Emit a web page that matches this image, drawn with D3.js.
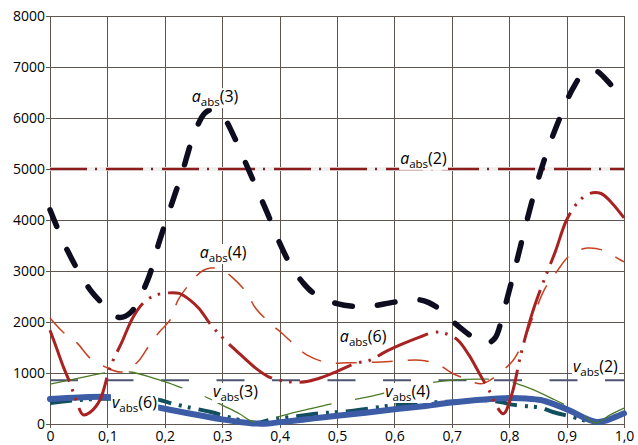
<!DOCTYPE html>
<html><head><meta charset="utf-8">
<script src="https://cdn.jsdelivr.net/npm/d3@7"></script>
<style>
body{margin:0;background:#fff}
svg{display:block}
text{font-family:"Open Sans",sans-serif}
</style>
</head><body>
<svg id="c" width="638" height="445"></svg>
<script>
// ---------- data ----------
const xTicks = [0,0.1,0.2,0.3,0.4,0.5,0.6,0.7,0.8,0.9,1.0];
const yTicks = [0,1000,2000,3000,4000,5000,6000,7000,8000];

// a_abs(2) and v_abs(2) are constant levels
const aAbs2X = [0,1];
const aAbs2 = [5000,5000];
const vAbs2X = [0,1];
const vAbs2 = [860,860];

const aAbs3X = [0,.03,.07,.1,.12,.14,.17,.19,.21,.23,.25,.27,.285,.3,.32,.34,.36,.38,.4,.42,.44,.46,.5,.55,.6,.64,.66,.68,.7,.72,.74,.76,.775,.79,.81,.83,.85,.87,.89,.91,.93,.95,.97,.99,1.0];
const aAbs3  = [4200,3410,2630,2270,2090,2180,2820,3560,4250,4920,5650,6100,6170,6060,5650,5140,4620,4100,3550,3100,2780,2560,2360,2300,2390,2440,2380,2240,2030,1840,1680,1580,1680,2200,3050,3950,4780,5470,6050,6560,6880,6930,6740,6470,6330];

const aAbs4X = [0,.023,.047,.07,.096,.125,.153,.171,.19,.21,.223,.244,.265,.28,.3,.319,.343,.357,.383,.404,.43,.448,.484,.52,.56,.6,.645,.676,.7,.72,.737,.752,.767,.789,.807,.824,.845,.862,.883,.902,.92,.936,.963,.993,1.0];
const aAbs4  = [2080,1800,1590,1290,1120,1020,1220,1510,1800,2050,2430,2760,3000,3060,3020,2860,2570,2290,1980,1780,1510,1350,1200,1200,1210,1230,1250,1170,1000,900,820,790,860,1050,1250,1600,2200,2650,2990,3270,3400,3450,3410,3220,3180];

const aAbs6X = [0,.012,.024,.035,.045,.058,.07,.087,.105,.125,.145,.165,.185,.205,.225,.245,.26,.28,.3,.33,.36,.38,.4,.425,.45,.475,.5,.53,.56,.58,.61,.645,.67,.69,.71,.73,.75,.765,.778,.79,.805,.82,.84,.86,.88,.9,.92,.94,.96,.98,1.0];
const aAbs6  = [1840,1470,1100,800,480,180,230,470,1120,1600,2100,2400,2530,2570,2560,2420,2260,1950,1700,1380,1080,930,860,820,840,920,1030,1180,1260,1390,1550,1710,1800,1770,1650,1350,950,660,350,200,600,1350,2170,2800,3370,4000,4350,4520,4520,4320,4040];

const vAbs3X = [0,.05,.1,.14,.18,.2,.232,.255,.279,.3,.33,.35,.365,.38,.41,.45,.505,.554,.58,.62,.66,.7,.75,.79,.836,.88,.923,.95,.976,1.0];
const vAbs3  = [780,900,1010,1020,900,830,700,610,490,370,200,60,10,80,180,290,430,530,600,700,800,860,880,860,700,470,220,20,180,310];

const vAbs4X = [0,.04,.08,.12,.155,.183,.21,.24,.28,.31,.34,.36,.39,.43,.47,.51,.56,.6,.64,.68,.72,.76,.79,.805,.83,.855,.876,.91,.935,.955,.975,1.0];
const vAbs4  = [410,460,490,500,500,490,410,330,235,140,50,20,100,150,210,240,310,370,410,430,450,465,420,380,350,320,235,140,60,25,100,210];

const vAbs6X = [0,.05,.1,.13,.16,.2,.25,.3,.33,.36,.38,.42,.46,.5,.55,.6,.65,.7,.75,.8,.83,.855,.88,.91,.935,.953,.97,.985,1.0];
const vAbs6  = [490,520,530,490,400,300,190,90,40,8,10,60,110,160,220,290,350,420,475,510,500,470,380,240,100,40,70,140,210];

// labels: symbol, number, anchor (data coords: left x, baseline y)
const labelSym = ["a","a","a","a","v","v","v","v"];
const labelNum = ["3","2","4","6","2","3","4","6"];
const labelAtX = [0.247,0.61,0.261,0.505,0.911,0.284,0.584,0.108];
const labelAtY = [6310,5100,3255,1610,1020,530,530,315];

// ---------- drawing ----------
const svg = d3.select("#c");
const L=50,R=624,T=16,B=424;
const x = d3.scaleLinear().domain([0,1]).range([L,R]);
const y = d3.scaleLinear().domain([0,8000]).range([B,T]);
const gridColor = "#5f574f";

// grid
const gg = svg.append("g").attr("shape-rendering","crispEdges");
gg.append("g").attr("transform",`translate(${L},0)`)
  .call(d3.axisLeft(y).tickValues(yTicks).tickSize(-(R-L)).tickFormat(""))
  .call(g=>g.select(".domain").remove())
  .call(g=>g.selectAll("line").attr("stroke",gridColor).attr("stroke-width",1));
gg.append("g").attr("transform",`translate(0,${B})`)
  .call(d3.axisBottom(x).tickValues(xTicks).tickSize(-(B-T)).tickFormat(""))
  .call(g=>g.select(".domain").remove())
  .call(g=>g.selectAll("line").attr("stroke",gridColor).attr("stroke-width",1));

// axes with labels
const fmtX = d => d===0 ? "0" : d.toFixed(1).replace(".",",");
svg.append("g").attr("transform",`translate(${L},0)`).attr("shape-rendering","crispEdges")
  .call(d3.axisLeft(y).tickValues(yTicks).tickSize(4).tickPadding(1).tickFormat(d=>String(d)))
  .call(g=>g.select(".domain").attr("stroke",gridColor).attr("stroke-width",1.3))
  .call(g=>g.selectAll("line").attr("stroke",gridColor).attr("stroke-width",1))
  .call(g=>g.selectAll("text").attr("font-size",14).attr("fill","#000").attr("font-family","'Open Sans',sans-serif"));
svg.append("g").attr("transform",`translate(0,${B})`).attr("shape-rendering","crispEdges")
  .call(d3.axisBottom(x).tickValues(xTicks).tickSize(4).tickPadding(3).tickFormat(fmtX))
  .call(g=>g.select(".domain").attr("stroke",gridColor).attr("stroke-width",1.3))
  .call(g=>g.selectAll("line").attr("stroke",gridColor).attr("stroke-width",1))
  .call(g=>g.selectAll("text").attr("font-size",14).attr("fill","#000").attr("font-family","'Open Sans',sans-serif"));

const line = d3.line().x(d=>x(d[0])).y(d=>y(d[1])).curve(d3.curveCatmullRom.alpha(0.5));
const pts = (xs,ys)=>xs.map((v,i)=>[v,ys[i]]);
function draw(xs,ys,o){
  return svg.append("path").datum(pts(xs,ys)).attr("d",line)
    .attr("fill","none").attr("stroke",o.c).attr("stroke-width",o.w)
    .attr("stroke-dasharray",o.d||null).attr("stroke-linecap",o.cap||"butt")
    .attr("stroke-linejoin","round");
}

// a_abs(2)
draw(aAbs2X,aAbs2,{c:"#f0f0f0",w:4});
draw(aAbs2X,aAbs2,{c:"#8b1c1c",w:2.5,d:"37,8,2,9"});
// v_abs(2)
draw(vAbs2X,vAbs2,{c:"#4d5670",w:2,d:"28,27.5"});
// v_abs(4)
draw(vAbs4X,vAbs4,{c:"#114e5e",w:4,d:"22,8,3,6,3,8"});
// v_abs(6)
draw(vAbs6X,vAbs6,{c:"#3d5ca6",w:6,cap:"round"});
// v_abs(3)
draw(vAbs3X,vAbs3,{c:"#4b7a28",w:1.3,d:"56,24"});
// a_abs(4)
draw(aAbs4X,aAbs4,{c:"#c8401f",w:1.5,d:"21,15"});
// a_abs(6)
draw(aAbs6X,aAbs6,{c:"#a82222",w:3,d:"55,8,2.5,7,2.5,8"});
// a_abs(3)
draw(aAbs3X,aAbs3,{c:"#0d0d1f",w:5.5,d:"18,25",cap:"round"});

// labels
labelSym.forEach((s,i)=>{
  const g = svg.append("g");
  const t = g.append("text").attr("x",x(labelAtX[i])).attr("y",y(labelAtY[i]))
    .attr("font-size",16).attr("fill","#000");
  t.append("tspan").attr("font-style","italic").text(s);
  t.append("tspan").attr("font-size",11.5).attr("dy",4).text("abs");
  t.append("tspan").attr("dy",-4).text("("+labelNum[i]+")");
  const bb = t.node().getBBox();
  g.insert("rect","text").attr("x",bb.x-1).attr("y",bb.y+3).attr("width",bb.width+2).attr("height",bb.height-4).attr("fill","#fff");
});
</script>
</body></html>
